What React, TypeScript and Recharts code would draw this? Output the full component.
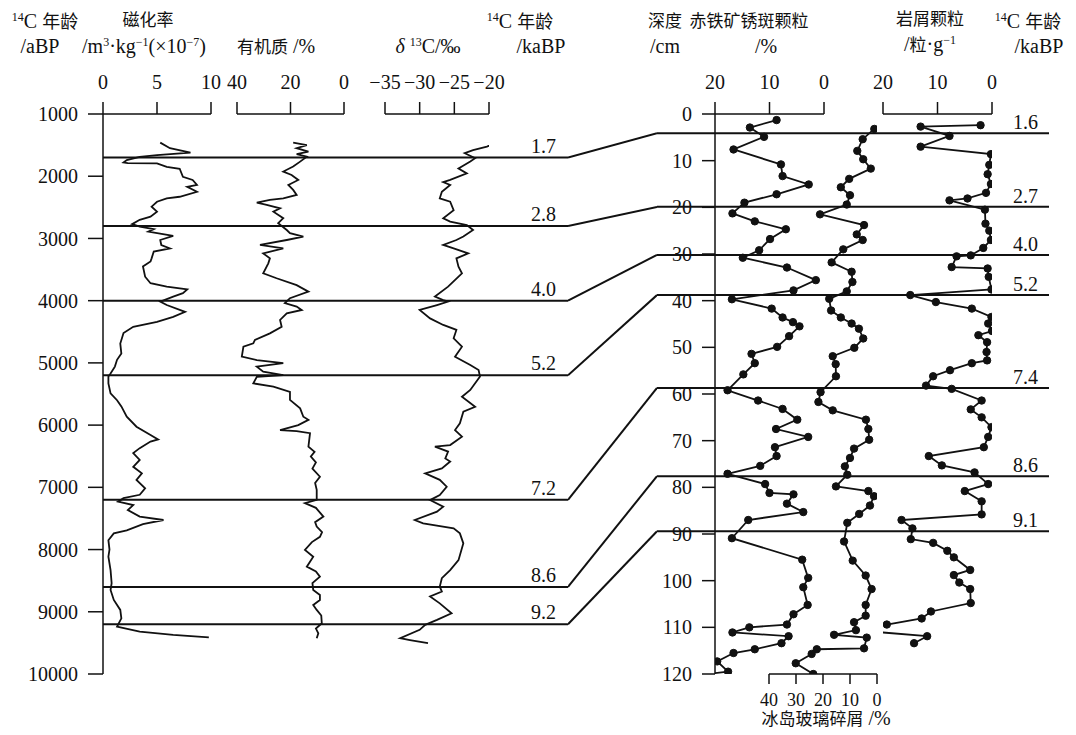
import { LineChart, Line, XAxis, YAxis, ReferenceLine } from 'recharts';

const SERIF = "'Liberation Serif', 'Times New Roman', serif";
const CJK = "'Noto Sans CJK SC', 'Noto Sans CJK JP', sans-serif";
const INK = '#111';

const AGE_TICKS = [1000, 2000, 3000, 4000, 5000, 6000, 7000, 8000, 9000, 10000];
const DEPTH_TICKS = [0, 10, 20, 30, 40, 50, 60, 70, 80, 90, 100, 110, 120];
const MAG_TICKS = [0, 5, 10];
const OM_TICKS = [0, 20, 40];
const D13C_TICKS = [-35, -30, -25, -20];
const HEM_TICKS = [0, 10, 20];
const GLASS_TICKS = [0, 10, 20, 30, 40];
const LITHIC_TICKS = [0, 10, 20];

// 14C age ties (aBP) on the left core and their depths (cm) on the right core
const TIE_AGES = [1700, 2800, 4000, 5200, 7200, 8600, 9200];
const TIE_AGE_LABELS = ['1.7', '2.8', '4.0', '5.2', '7.2', '8.6', '9.2'];
const TIE_DEPTHS = [4.1, 19.9, 30.2, 38.8, 58.7, 77.6, 89.4];
const TIE_DEPTH_LABELS = ['1.6', '2.7', '4.0', '5.2', '7.4', '8.6', '9.1'];

// [age aBP, value]
const MAG: [number, number][] = [
  [1460, 5.3], [1550, 6.2], [1620, 8.1], [1660, 5.0], [1690, 3.4], [1740, 2.2], [1780, 1.9],
  [1790, 2.3], [1795, 5.0], [1850, 5.9], [1880, 7.1], [2010, 7.4], [2060, 8.3], [2140, 8.7],
  [2170, 7.8], [2250, 8.7], [2330, 7.1], [2355, 5.9], [2410, 5.0], [2490, 4.5], [2570, 5.0],
  [2650, 4.4], [2700, 3.4], [2770, 2.7], [2810, 3.4], [2850, 4.7], [2890, 4.2], [2960, 6.5],
  [3025, 5.3], [3105, 5.4], [3160, 6.2], [3210, 4.7], [3320, 4.5], [3370, 4.4], [3450, 3.7],
  [3615, 3.9], [3720, 4.4], [3775, 5.9], [3820, 7.8], [3880, 7.4], [3935, 6.5], [4015, 5.3],
  [4070, 5.9], [4180, 7.6], [4260, 6.5], [4340, 5.0], [4420, 2.8], [4520, 1.9], [4690, 1.6],
  [4850, 1.7], [4950, 1.3], [5060, 1.1], [5170, 0.7], [5220, 0.5], [5330, 0.5], [5490, 0.7],
  [5600, 1.3], [5700, 1.7], [5865, 2.2], [6025, 3.1], [6160, 4.4], [6230, 5.1], [6265, 4.4],
  [6370, 3.4], [6450, 2.8], [6560, 3.4], [6670, 2.8], [6775, 3.6], [6880, 3.1], [7015, 3.9],
  [7120, 3.4], [7175, 1.9], [7230, 1.4], [7285, 2.8], [7365, 2.3], [7470, 3.4], [7525, 5.6],
  [7590, 3.7], [7690, 2.2], [7740, 1.0], [7850, 0.5], [8000, 0.6], [8115, 0.5], [8330, 0.7],
  [8540, 0.8], [8650, 0.7], [8810, 1.0], [8970, 1.6], [9105, 1.7], [9240, 1.3], [9320, 3.4],
  [9370, 6.5], [9410, 9.8],
];

const ORGANIC: [number, number][] = [
  [1460, 19.0], [1500, 13.9], [1550, 17.7], [1605, 13.3], [1645, 17.7], [1685, 13.9], [1765, 16.4],
  [1845, 19.0], [1925, 22.7], [1980, 19.6], [2060, 17.1], [2140, 20.8], [2220, 19.0], [2300, 17.7],
  [2355, 22.7], [2380, 27.7], [2425, 32.6], [2460, 28.9], [2515, 23.9], [2570, 26.4], [2675, 22.7],
  [2755, 24.6], [2865, 21.4], [2915, 20.2], [2970, 15.2], [3025, 21.4], [3105, 31.4], [3160, 22.7],
  [3240, 30.2], [3320, 27.7], [3400, 28.3], [3560, 30.2], [3640, 25.2], [3750, 17.7], [3855, 13.3],
  [3960, 20.2], [4040, 22.1], [4095, 17.7], [4150, 15.8], [4205, 21.4], [4310, 23.9], [4420, 23.3],
  [4525, 27.7], [4630, 33.3], [4685, 33.9], [4740, 37.6], [4900, 38.2], [4955, 32.6], [5005, 22.7],
  [5060, 32.6], [5140, 30.2], [5195, 22.7], [5225, 32.6], [5330, 33.9], [5380, 26.4], [5465, 20.2],
  [5595, 20.2], [5730, 16.4], [5865, 15.2], [5915, 13.3], [6000, 17.1], [6080, 23.9], [6095, 17.7],
  [6130, 12.7], [6345, 13.3], [6430, 11.0], [6505, 12.4], [6600, 10.5], [6700, 11.8], [6830, 9.0],
  [6930, 10.8], [7040, 10.2], [7200, 10.2], [7255, 14.6], [7330, 10.5], [7470, 7.7], [7560, 10.8],
  [7630, 10.2], [7720, 8.2], [7795, 9.0], [7880, 12.0], [8005, 14.6], [8115, 11.5], [8275, 13.9],
  [8350, 10.5], [8435, 9.0], [8540, 11.8], [8650, 11.5], [8730, 9.0], [8810, 9.0], [8890, 11.5],
  [8970, 10.2], [9060, 8.5], [9185, 8.3], [9270, 10.5], [9345, 9.6], [9425, 10.2],
];

const D13C: [number, number][] = [
  [1430, -17.0], [1460, -18.9], [1525, -20.3], [1580, -22.3], [1630, -23.5], [1710, -22.0],
  [1765, -22.7], [1875, -24.4], [1955, -23.2], [2060, -25.6], [2095, -26.6], [2140, -25.6],
  [2250, -26.8], [2355, -27.1], [2410, -25.6], [2545, -25.1], [2675, -26.6], [2730, -25.6],
  [2785, -23.2], [2865, -22.3], [2970, -23.7], [3025, -24.7], [3105, -26.6], [3160, -25.1],
  [3240, -23.0], [3320, -24.7], [3455, -24.4], [3560, -23.9], [3775, -25.9], [3935, -27.8],
  [3990, -26.6], [4015, -25.9], [4070, -27.5], [4150, -30.0], [4285, -28.5], [4390, -26.6],
  [4470, -24.7], [4605, -25.1], [4740, -23.9], [4900, -24.9], [5035, -22.7], [5115, -21.5],
  [5220, -21.3], [5435, -22.7], [5545, -23.9], [5705, -22.0], [5785, -23.7], [5970, -24.2],
  [6080, -24.9], [6185, -23.9], [6320, -25.6], [6345, -27.8], [6425, -25.9], [6535, -26.3],
  [6585, -25.6], [6695, -26.8], [6775, -29.2], [6880, -27.1], [6990, -26.1], [7125, -27.1],
  [7205, -28.5], [7310, -26.6], [7390, -27.5], [7525, -30.7], [7580, -29.5], [7660, -25.1],
  [7740, -24.2], [7900, -23.7], [8170, -24.4], [8330, -25.6], [8460, -26.8], [8595, -27.1],
  [8675, -26.8], [8755, -28.5], [8865, -27.1], [9025, -25.4], [9130, -27.5], [9210, -29.2],
  [9290, -30.0], [9425, -32.8], [9455, -31.4], [9505, -28.8],
];

// [depth cm, value]
const HEMATITE: [number, number][] = [
  [1.3, 8.7], [2.9, 13.6], [4.9, 11.0], [7.6, 16.6], [10.8, 7.9], [13.3, 7.6], [15.1, 2.8],
  [17.2, 8.7], [19.0, 14.6], [21.3, 16.8], [23.0, 12.7], [24.7, 7.0], [26.8, 9.9], [29.2, 11.9],
  [30.8, 14.9], [32.9, 6.8], [35.6, 1.5], [37.8, 5.6], [39.7, 16.9], [41.7, 9.6], [43.6, 7.6],
  [44.6, 5.7], [45.5, 4.5], [47.6, 6.4], [49.9, 8.6], [51.4, 13.3], [53.4, 12.7], [55.8, 14.8],
  [59.2, 17.7], [61.4, 12.1], [63.2, 7.6], [65.5, 4.9], [67.5, 8.8], [69.2, 2.9], [71.4, 9.0],
  [73.3, 8.7], [75.4, 11.7], [77.1, 17.7], [79.3, 10.8], [81.2, 10.0], [81.5, 5.6], [83.5, 6.8],
  [85.3, 3.8], [87.0, 13.9], [90.9, 16.9], [95.5, 4.0], [99.4, 2.9], [101.4, 3.8], [105.2, 3.0],
  [107.2, 5.6], [109.4, 6.8], [110.0, 13.7], [111.1, 16.8], [111.9, 6.5], [113.4, 7.8],
  [114.7, 12.7], [115.5, 16.6], [117.3, 19.6], [119.5, 17.6], [120.0, 21.5],
];

const GLASS: [number, number][] = [
  [3.2, 1.0], [5.4, 5.3], [7.9, 7.3], [9.7, 5.1], [11.7, 2.3], [13.9, 10.3], [15.7, 13.4],
  [17.4, 10.0], [19.4, 11.2], [21.5, 21.1], [23.8, 4.8], [25.8, 7.5], [27.0, 5.3], [29.0, 12.5],
  [31.8, 16.8], [33.8, 9.4], [36.0, 9.1], [38.0, 11.2], [39.6, 17.7], [42.1, 17.0], [43.6, 13.4],
  [44.9, 9.4], [46.0, 6.7], [48.1, 5.1], [50.1, 8.4], [51.9, 16.4], [53.6, 15.3], [56.2, 15.2],
  [59.6, 20.9], [61.7, 21.7], [63.5, 16.4], [65.5, 4.1], [67.5, 3.2], [69.8, 2.9], [71.7, 8.5],
  [73.7, 10.0], [75.5, 11.9], [77.3, 11.0], [79.8, 15.2], [80.8, 3.2], [81.9, 1.1], [83.9, 2.6],
  [85.7, 6.6], [87.6, 11.0], [91.6, 12.2], [95.7, 9.0], [98.9, 4.2], [101.8, 2.0], [105.2, 4.2],
  [107.5, 4.2], [108.9, 8.5], [110.6, 7.8], [111.6, 15.9], [112.2, 3.8], [114.5, 4.8],
  [114.7, 22.3], [115.7, 24.2], [117.7, 30.1], [120.0, 23.6],
];

const LITHIC: [number, number][] = [
  [2.4, 2.1], [2.7, 13.1], [4.7, 7.8], [7.0, 13.1], [8.6, 0.2], [10.9, 0.5], [12.9, 0.8],
  [15.0, 0.2], [16.9, 1.1], [18.1, 4.5], [18.5, 7.8], [20.5, 1.3], [23.5, 1.2], [25.0, 0.5],
  [27.0, 0.2], [28.7, 1.6], [30.3, 3.9], [30.5, 6.5], [32.8, 7.4], [33.1, 0.8], [34.9, 0.6],
  [37.6, 0.1], [38.8, 15.0], [40.3, 10.3], [41.7, 3.7], [43.5, 0.1], [44.9, 0.7], [46.5, 0.0],
  [47.4, 2.5], [48.9, 0.9], [51.0, 1.0], [52.8, 0.9], [53.4, 3.7], [54.9, 7.7], [56.2, 10.8],
  [58.2, 12.1], [58.9, 7.4], [61.4, 1.9], [63.3, 3.9], [65.0, 1.9], [67.1, 0.1], [69.2, 0.7],
  [71.4, 1.5], [73.3, 11.6], [75.3, 9.2], [76.8, 3.2], [79.3, 0.7], [80.8, 5.0], [83.0, 1.9],
  [85.8, 1.9], [87.0, 16.6], [88.8, 14.6], [91.1, 14.9], [91.9, 10.8], [93.6, 8.2], [95.0, 7.0],
  [97.7, 4.0], [98.8, 7.0], [100.4, 6.0], [101.8, 4.0], [104.8, 3.9], [106.6, 11.2],
  [108.1, 12.9], [109.4, 19.3], [110.6, 25.1], [111.9, 11.9], [113.4, 14.3],
];

const ageRows = (pairs: [number, number][]) => pairs.map(([age, v]) => ({ age, v }));
const depthRows = (pairs: [number, number][]) => pairs.map(([depth, v]) => ({ depth, v }));
// both cores share the same vertical span: 1000-10000 aBP <-> 0-120 cm
const ageToDepth = (age: number) => ((age - 1000) / 9000) * 120;

const TICK = { fill: INK, fontSize: 20, fontFamily: SERIF };
const AXIS = { stroke: INK, strokeWidth: 1.5 };
const minus = (v: number) => (v < 0 ? `\u2212${Math.abs(v)}` : `${v}`);

type PanelProps = {
  left: number;
  width: number;
  rows: { [k: string]: number }[];
  yKey: 'age' | 'depth';
  xDomain: [number, number];
  xTicks: number[];
  reversed?: boolean;
  bottom?: boolean;
  dots?: boolean;
  fmt?: (v: number) => string;
  depthAxis?: boolean;
};

function Panel({ left, width, rows, yKey, xDomain, xTicks, reversed, bottom, dots, fmt, depthAxis }: PanelProps) {
  const yW = depthAxis ? 60 : 0;
  return (
    <div style={{ position: 'absolute', left: left - yW, top: 0 }}>
      <LineChart
        layout="vertical"
        width={width + yW}
        height={735}
        data={rows}
        margin={bottom ? { top: 114, bottom: 0, left: 0, right: 0 } : { top: 84, bottom: 61, left: 0, right: 0 }}
      >
        <XAxis
          type="number"
          orientation={bottom ? 'bottom' : 'top'}
          height={bottom ? 61 : 30}
          domain={xDomain}
          ticks={xTicks}
          reversed={reversed}
          allowDataOverflow
          interval={0}
          tickSize={bottom ? 10 : 12}
          tickMargin={bottom ? 9 : 13}
          tick={bottom ? { ...TICK, fontSize: 18 } : TICK}
          tickFormatter={fmt}
          axisLine={AXIS}
          tickLine={AXIS}
        />
        <YAxis
          type="number"
          dataKey={yKey}
          domain={yKey === 'age' ? [1000, 10000] : [0, 120]}
          allowDataOverflow
          hide={!depthAxis}
          width={yW}
          ticks={DEPTH_TICKS}
          interval={0}
          tickSize={13}
          tickMargin={10}
          tick={TICK}
          axisLine={AXIS}
          tickLine={AXIS}
        />
        <Line
          dataKey="v"
          type="linear"
          stroke={INK}
          strokeWidth={1.8}
          dot={dots ? { r: 3.7, fill: INK, stroke: INK, strokeWidth: 1 } : false}
          isAnimationActive={false}
        />
      </LineChart>
    </div>
  );
}

const tieLabel = (text: string, inset: number, lift: number) => (props: any) => {
  const vb = props.viewBox;
  if (!vb) return null;
  return (
    <text x={vb.x + vb.width - inset} y={vb.y - lift} textAnchor="end" fill={INK} fontSize={20} fontFamily={SERIF}>
      {text}
    </text>
  );
};

const Sup = ({ children }: { children: string }) => (
  <span style={{ fontSize: '0.6em', verticalAlign: '0.6em' }}>{children}</span>
);
const Zh = ({ children, size = 17 }: { children: string; size?: number }) => (
  <span style={{ fontFamily: CJK, fontSize: size }}>{children}</span>
);
const Caption = ({ x, y, children }: { x: number; y: number; children: any }) => (
  <div
    style={{
      position: 'absolute',
      left: x,
      top: y,
      transform: 'translate(-50%, -50%)',
      whiteSpace: 'nowrap',
      fontFamily: SERIF,
      fontSize: 20,
      lineHeight: 1,
      color: INK,
    }}
  >
    {children}
  </div>
);

const C14 = () => (
  <>
    <Sup>14</Sup>C <Zh size={18}>年龄</Zh>
  </>
);

export default function App() {
  return (
    <div style={{ position: 'absolute', left: 0, top: 0, width: 1076, height: 735, background: '#fff', overflow: 'hidden' }}>
      <style>{'.recharts-line{clip-path:none !important}.recharts-surface{overflow:visible}'}</style>

      {/* left core: age frame with tie lines */}
      <div style={{ position: 'absolute', left: 0, top: 0 }}>
        <LineChart
          layout="vertical"
          width={568}
          height={735}
          data={TIE_AGES.map((age) => ({ age }))}
          margin={{ top: 114, bottom: 61, left: 0, right: 0 }}
        >
          <XAxis type="number" domain={[0, 1]} allowDataOverflow hide />
          <YAxis
            type="number"
            dataKey="age"
            domain={[1000, 10000]}
            allowDataOverflow
            ticks={AGE_TICKS}
            width={103}
            interval={0}
            tickSize={15}
            tickMargin={10}
            tick={TICK}
            axisLine={AXIS}
            tickLine={AXIS}
          />
          {TIE_AGES.map((age, i) => (
            <ReferenceLine key={age} y={age} stroke={INK} strokeWidth={2} label={tieLabel(TIE_AGE_LABELS[i], 12, 5)} />
          ))}
        </LineChart>
      </div>

      {/* connectors between the two cores */}
      <div style={{ position: 'absolute', left: 568, top: 0 }}>
        <LineChart layout="vertical" width={89} height={735} margin={{ top: 114, bottom: 61, left: 0, right: 0 }}>
          <XAxis type="number" domain={[0, 1]} allowDataOverflow hide />
          <YAxis type="number" dataKey="depth" domain={[0, 120]} allowDataOverflow hide />
          {TIE_AGES.map((age, i) => (
            <Line
              key={age}
              data={[
                { pos: 0, depth: ageToDepth(age) },
                { pos: 1, depth: TIE_DEPTHS[i] },
              ]}
              dataKey="pos"
              stroke={INK}
              strokeWidth={2}
              dot={false}
              isAnimationActive={false}
            />
          ))}
        </LineChart>
      </div>

      {/* right core: depth tie lines */}
      <div style={{ position: 'absolute', left: 657, top: 0 }}>
        <LineChart
          layout="vertical"
          width={392}
          height={735}
          data={TIE_DEPTHS.map((depth) => ({ depth }))}
          margin={{ top: 114, bottom: 61, left: 0, right: 0 }}
        >
          <XAxis type="number" domain={[0, 1]} allowDataOverflow hide />
          <YAxis type="number" dataKey="depth" domain={[0, 120]} allowDataOverflow hide />
          {TIE_DEPTHS.map((d, i) => (
            <ReferenceLine key={d} y={d} stroke={INK} strokeWidth={2} label={tieLabel(TIE_DEPTH_LABELS[i], 11, 4)} />
          ))}
        </LineChart>
      </div>

      <Panel left={103} width={108} rows={ageRows(MAG)} yKey="age" xDomain={[0, 10]} xTicks={MAG_TICKS} />
      <Panel left={237} width={107} rows={ageRows(ORGANIC)} yKey="age" xDomain={[0, 40]} xTicks={OM_TICKS} reversed />
      <Panel left={385} width={104} rows={ageRows(D13C)} yKey="age" xDomain={[-35, -20]} xTicks={D13C_TICKS} fmt={minus} />

      <Panel left={715} width={109} rows={depthRows(HEMATITE)} yKey="depth" xDomain={[0, 20]} xTicks={HEM_TICKS} reversed dots depthAxis />
      <Panel left={769} width={108} rows={depthRows(GLASS)} yKey="depth" xDomain={[0, 40]} xTicks={GLASS_TICKS} reversed dots bottom />
      <Panel left={883} width={109} rows={depthRows(LITHIC)} yKey="depth" xDomain={[0, 20]} xTicks={LITHIC_TICKS} reversed dots />

      {/* headers */}
      <Caption x={45} y={21}><C14 /></Caption>
      <Caption x={40} y={46}>/aBP</Caption>
      <Caption x={148} y={19}><Zh>磁化率</Zh></Caption>
      <Caption x={144} y={46}>
        /m<Sup>3</Sup>·kg<Sup>−1</Sup>(×10<Sup>−7</Sup>)
      </Caption>
      <Caption x={276} y={46}><Zh>有机质</Zh> /%</Caption>
      <Caption x={428} y={46}><i>δ</i> <Sup>13</Sup>C/‰</Caption>
      <Caption x={520} y={21}><C14 /></Caption>
      <Caption x={541} y={46}>/kaBP</Caption>
      <Caption x={665} y={20}><Zh>深度</Zh></Caption>
      <Caption x={665} y={46}>/cm</Caption>
      <Caption x={749} y={20}><Zh>赤铁矿锈斑颗粒</Zh></Caption>
      <Caption x={766} y={46}>/%</Caption>
      <Caption x={930} y={18}><Zh>岩屑颗粒</Zh></Caption>
      <Caption x={930} y={44}>/<Zh>粒</Zh>·g<Sup>−1</Sup></Caption>
      <Caption x={1028} y={21}><C14 /></Caption>
      <Caption x={1039} y={46}>/kaBP</Caption>
      <Caption x={826} y={718}><Zh>冰岛玻璃碎屑</Zh> /%</Caption>
    </div>
  );
}
